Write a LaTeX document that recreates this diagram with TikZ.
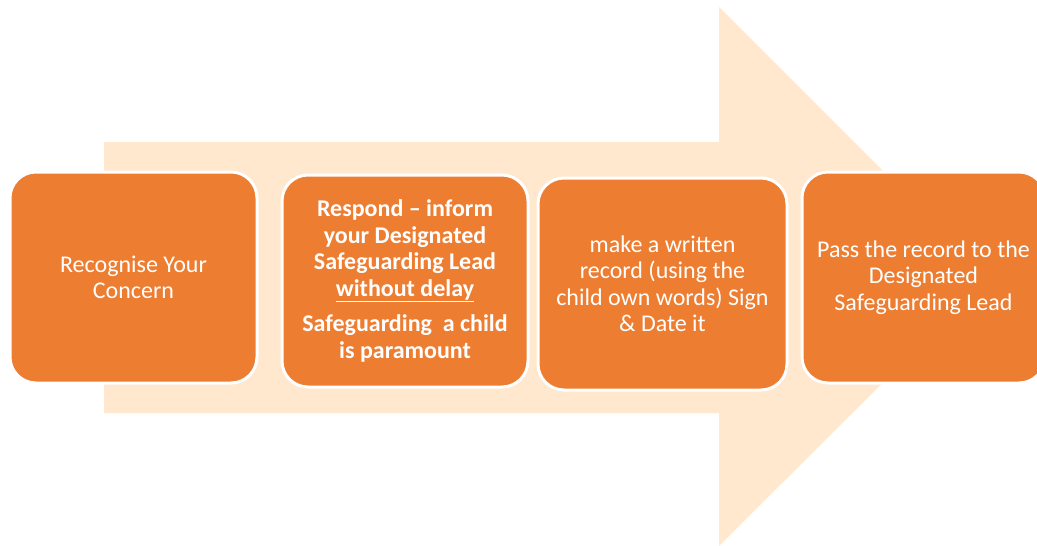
\documentclass[tikz,border=0pt]{standalone}
\usepackage{fontspec}
\setmainfont{Carlito}
\definecolor{boxorange}{HTML}{ED7D31}
\definecolor{arrowpeach}{HTML}{FFE8CD}
\begin{document}
\begin{tikzpicture}[x=1pt,y=-1pt,
  stepbox/.style={draw=white, line width=3pt, fill=boxorange, rounded corners=26pt,
    text=white, align=center, inner sep=0pt, font=\fontsize{24}{26.5}\selectfont},
]
\useasboundingbox (0,0) rectangle (1037,546);
% big background arrow
\fill[arrowpeach] (104,142) -- (719,142) -- (719,7) -- (989,277) -- (719,546) -- (719,413) -- (104,413) -- cycle;
% boxes
\node[stepbox, minimum width=247pt, minimum height=211pt] (s1) at (133.5,277.5)
  {Recognise Your\\Concern};
\node[stepbox, minimum width=246pt, minimum height=212pt, font=\bfseries\fontsize{24}{26.5}\selectfont] (s2) at (405,281)
  {Respond -- inform\\your Designated\\Safeguarding Lead\\\underline{without delay}\\[9pt]Safeguarding\ \ a child\\is paramount};
\node[stepbox, minimum width=249pt, minimum height=212pt] (s3) at (662.5,284)
  {make a written\\record (using the\\child own words) Sign\\\& Date it};
\node[stepbox, minimum width=243pt, minimum height=211pt] (s4) at (923.5,277.5)
  {Pass the record to the\\Designated\\Safeguarding Lead};
\end{tikzpicture}
\end{document}
